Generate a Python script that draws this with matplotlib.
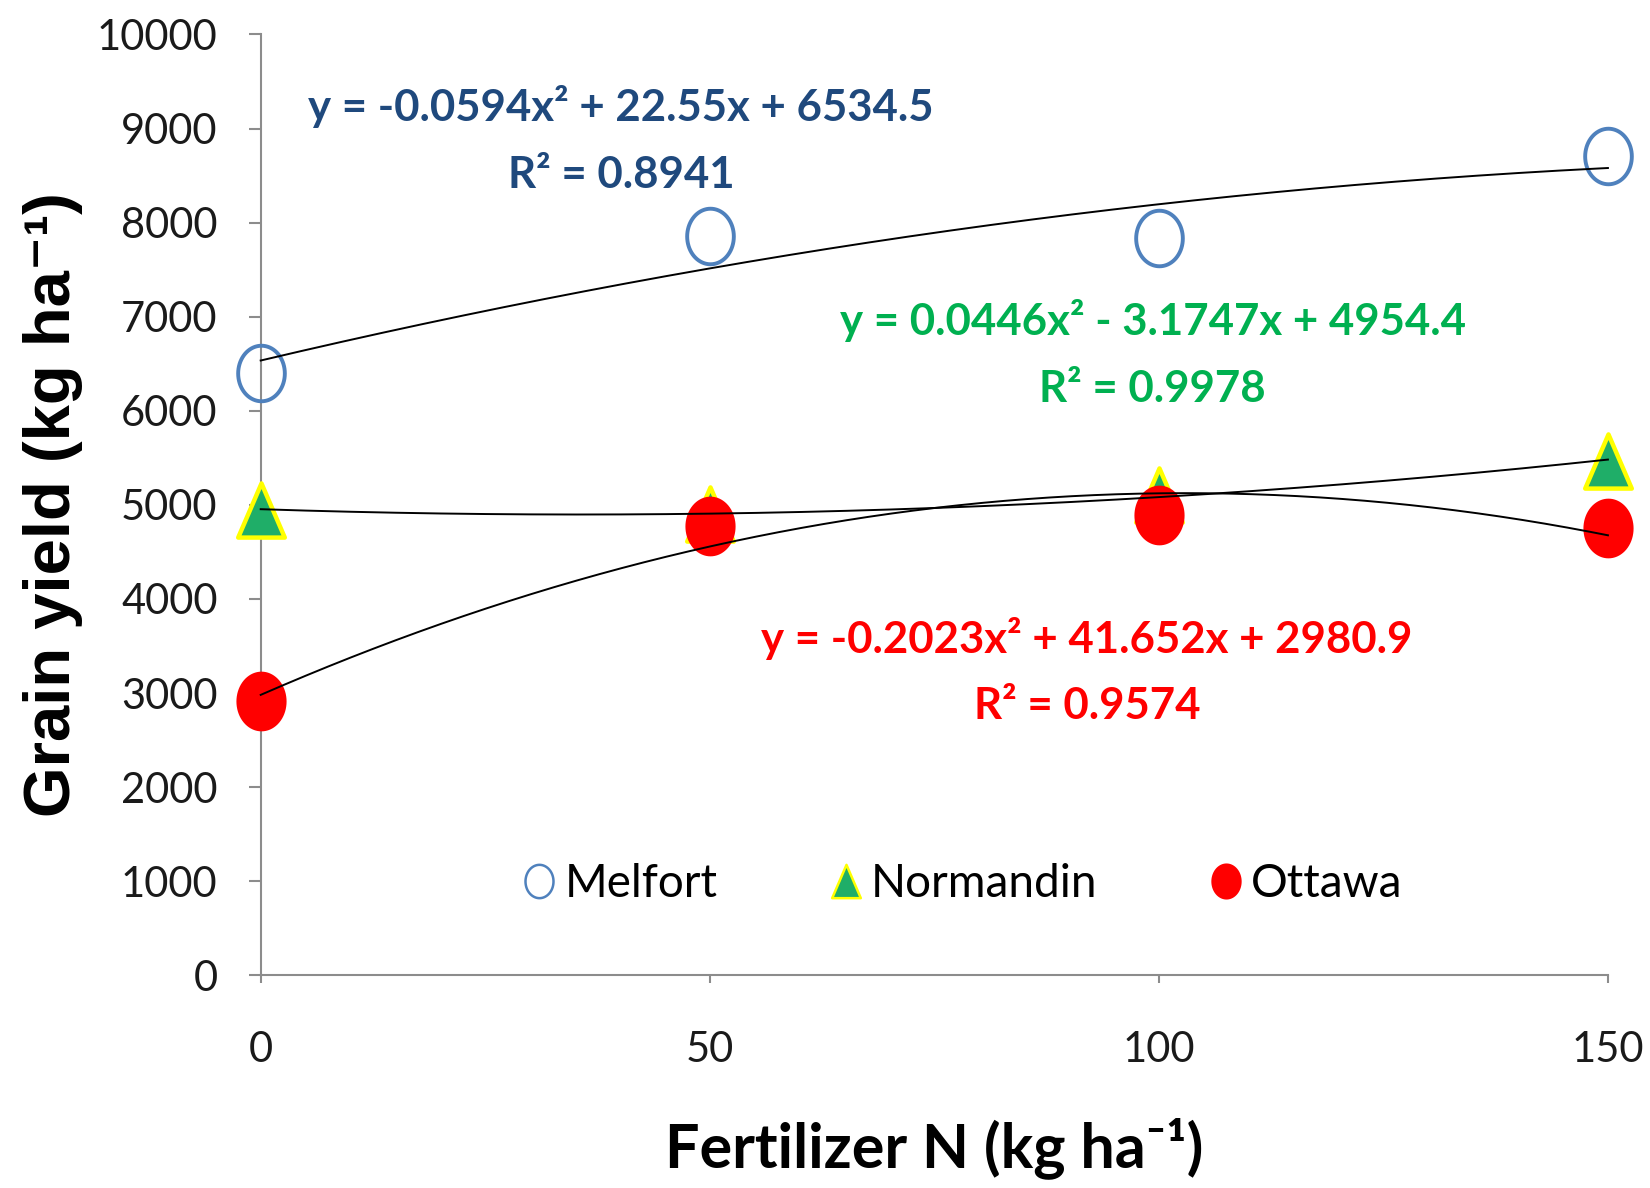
import numpy as np
import matplotlib
matplotlib.use("Agg")
import matplotlib.pyplot as plt
from matplotlib.lines import Line2D
from matplotlib.path import Path

# Nitrogen rates (kg N/ha)
n_rates = [0, 50, 100, 150]

# Mean grain yield per site (kg/ha)
melfort = [6400, 7860, 7840, 8710]
normandin = [4950, 4900, 5100, 5470]
ottawa = [2920, 4780, 4890, 4750]

# Quadratic trendline coefficients (a, b, c) for y = a x^2 + b x + c
melfort_fit = [-0.0594, 22.55, 6534.5]
normandin_fit = [0.0446, -3.1747, 4954.4]
ottawa_fit = [-0.2023, 41.652, 2980.9]

melfort_r2 = "0.8941"
normandin_r2 = "0.9978"
ottawa_r2 = "0.9574"

y_ticks = [0, 1000, 2000, 3000, 4000, 5000, 6000, 7000, 8000, 9000, 10000]
x_ticks = [0, 50, 100, 150]

AXIS_GREY = "#8c8c8c"
BLUE_EDGE = "#4f81bd"
EQ_BLUE = "#1f497d"
GREEN = "#00b050"
TRI_GREEN = "#1fae68"
YELLOW = "#ffff00"
RED = "#ff0000"

TXT = ["Lato", "DejaVu Sans"]

# Slightly tall marker shapes (oval and narrow triangle)
_t = np.linspace(0, 2 * np.pi, 73)
OVAL = Path(np.column_stack([0.42 * np.cos(_t), 0.5 * np.sin(_t)]), closed=True)
TRIANGLE = Path([(0, 0.5), (-0.43, -0.5), (0.43, -0.5), (0, 0.5)], closed=True)

fig = plt.figure(figsize=(16.5, 11.88), dpi=100)
ax = fig.add_axes([0.158, 0.179, 0.8165, 0.792])

# Data points
ax.plot(n_rates, melfort, linestyle="none", marker=OVAL, markersize=40,
        markerfacecolor="none", markeredgecolor=BLUE_EDGE, markeredgewidth=2.8,
        clip_on=False, zorder=3)
ax.plot(n_rates, normandin, linestyle="none", marker=TRIANGLE, markersize=39,
        markerfacecolor=TRI_GREEN, markeredgecolor=YELLOW, markeredgewidth=3.2,
        clip_on=False, zorder=3)
ax.plot(n_rates, ottawa, linestyle="none", marker=OVAL, markersize=43,
        markerfacecolor=RED, markeredgecolor=RED, markeredgewidth=0,
        clip_on=False, zorder=4)

# Quadratic trendlines
xs = np.linspace(0, 150, 300)
for coef in (melfort_fit, normandin_fit, ottawa_fit):
    ax.plot(xs, np.polyval(coef, xs), color="black", linewidth=1.4,
            clip_on=False, zorder=5)


def eq_text(coef):
    a, b, c = coef
    sb = "+" if b >= 0 else "-"
    return f"y = {a:g}x² {sb} {abs(b):g}x + {c:g}"


eq_kw = dict(ha="center", va="center", fontsize=31.5, fontweight="bold",
             family=TXT, zorder=6)
ax.text(40.1, 9230, eq_text(melfort_fit), color=EQ_BLUE, **eq_kw)
ax.text(40.1, 8510, f"R² = {melfort_r2}", color=EQ_BLUE, **eq_kw)
ax.text(99.3, 6960, eq_text(normandin_fit), color=GREEN, **eq_kw)
ax.text(99.3, 6230, f"R² = {normandin_r2}", color=GREEN, **eq_kw)
ax.text(92.0, 3580, eq_text(ottawa_fit), color=RED, **eq_kw)
ax.text(92.0, 2865, f"R² = {ottawa_r2}", color=RED, **eq_kw)

# Axes styling
ax.set_xlim(0, 150)
ax.set_ylim(0, 10000)
ax.set_xticks(x_ticks)
ax.set_yticks(y_ticks)
ax.set_xticklabels([str(v) for v in x_ticks], family=TXT, fontsize=30)
ax.set_yticklabels([str(v) for v in y_ticks], family=TXT, fontsize=30)
for side in ("top", "right"):
    ax.spines[side].set_visible(False)
for side in ("left", "bottom"):
    ax.spines[side].set_color(AXIS_GREY)
    ax.spines[side].set_linewidth(1.5)
ax.tick_params(axis="y", direction="out", length=9, width=1.5,
               color=AXIS_GREY, pad=22, labelcolor="#1a1a1a")
ax.tick_params(axis="x", direction="out", length=6, width=1.5,
               color=AXIS_GREY, pad=34, labelcolor="#1a1a1a")

ax.set_xlabel("Fertilizer N (kg ha⁻¹)", family=TXT, fontsize=44,
              fontweight="bold", labelpad=35)
ax.set_ylabel("Grain yield (kg ha⁻¹)", family=["Liberation Sans", "DejaVu Sans"],
              fontsize=47, fontweight="bold", labelpad=10)

# Legend
handles = [
    Line2D([], [], linestyle="none", marker=OVAL, markersize=24,
           markerfacecolor="none", markeredgecolor=BLUE_EDGE, markeredgewidth=1.8),
    Line2D([], [], linestyle="none", marker=TRIANGLE, markersize=24,
           markerfacecolor=TRI_GREEN, markeredgecolor=YELLOW, markeredgewidth=1.8),
    Line2D([], [], linestyle="none", marker=OVAL, markersize=26,
           markerfacecolor=RED, markeredgecolor=RED, markeredgewidth=0),
]
ax.legend(handles, ["Melfort", "Normandin", "Ottawa"], ncol=3, loc="center",
          bbox_to_anchor=(0.522, 0.097), frameon=False, handlelength=0.6,
          handletextpad=0.25, columnspacing=2.5,
          prop={"family": TXT, "size": 33})

fig.savefig("out.png", dpi=100)
